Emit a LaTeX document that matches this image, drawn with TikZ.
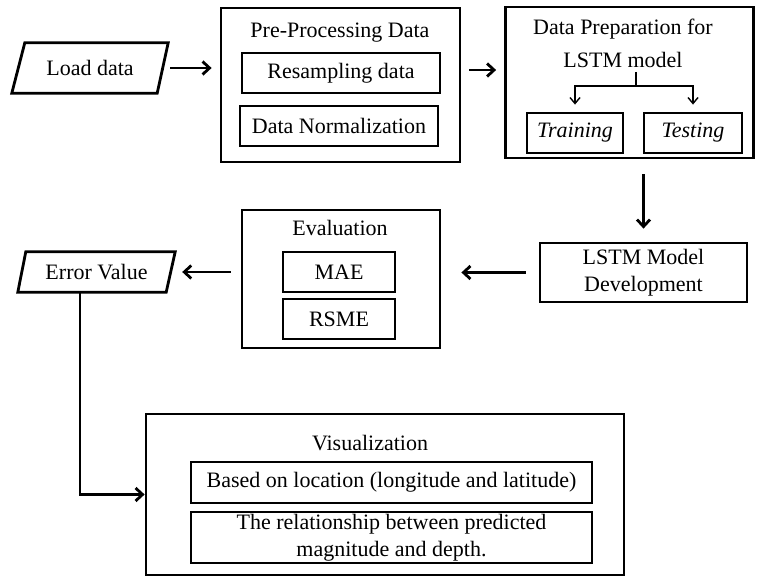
\documentclass[tikz,border=0pt]{standalone}
\usepackage{fontspec}
\setmainfont{Liberation Serif}
\usetikzlibrary{arrows.meta,calc}
\begin{document}
\begin{tikzpicture}[x=1pt,y=-1pt,
  font=\fontsize{22}{27}\selectfont,
  box/.style={draw, line width=2.8pt, inner sep=0pt, align=center},
  txt/.style={inner sep=0pt, align=center},
  frame/.style={line width=2.8pt, line join=miter},
  arr/.style={line width=2.8pt, -{Straight Barb[length=7pt,width=13pt]}},
  branch/.style={line width=1.4pt},
  barr/.style={line width=1.4pt, -{Straight Barb[length=6pt,width=10pt]}}]
\useasboundingbox (0,0) rectangle (757,577);

% Load data
\node[txt, minimum width=156, minimum height=50] (load) at (90,68) {Load data};
\draw[frame] (load.south west) -- ($(load.north west)+(13,0)$) -- (load.north east) -- ($(load.south east)+(-11,0)$) -- cycle;

% Pre-processing
\node[box, minimum width=239, minimum height=154] (pre) at (340.5,85) {};
\node[txt] (pretitle) at (340,33) {Pre-Processing Data};
\node[box, minimum width=198, minimum height=40] (resamp) at (341,73) {Resampling data};
\node[box, minimum width=198, minimum height=40] (norm) at (339,126) {Data Normalization};

% Data preparation
\node[box, minimum width=248, minimum height=151] (prep) at (629.5,82.5) {};
\node[txt, font=\fontsize{22}{33}\selectfont] (preptitle) at (623,43) {Data Preparation for\\LSTM model};
\node[box, minimum width=96, minimum height=40] (train) at (575,133) {\itshape Training};
\node[box, minimum width=98, minimum height=40] (test) at (693,133) {\itshape Testing};
\coordinate (b0) at (636,72);
\coordinate (b1) at (636,86);
\draw[branch] (b0) -- (b1);
\draw[barr, shorten >=7pt] (b1) -| (train.north);
\draw[barr, shorten >=7pt] (b1) -| (test.north);

% LSTM model development
\node[box, minimum width=207, minimum height=59] (lstm) at (643.5,272.5) {LSTM Model\\Development};

% Evaluation
\node[box, minimum width=198, minimum height=138] (eval) at (341,279) {};
\node[txt] (evaltitle) at (340,228) {Evaluation};
\node[box, minimum width=112, minimum height=40] (mae) at (339,272) {MAE};
\node[box, minimum width=112, minimum height=40] (rsme) at (339,319) {RSME};

% Error value
\node[txt, minimum width=157, minimum height=40] (err) at (96.5,272) {Error Value};
\draw[frame] (err.south west) -- ($(err.north west)+(8,0)$) -- (err.north east) -- ($(err.south east)+(-9,0)$) -- cycle;

% Visualization
\node[box, minimum width=478, minimum height=161] (vis) at (385,494.5) {};
\node[txt] (vistitle) at (370,443) {Visualization};
\node[box, minimum width=401, minimum height=41] (vis1) at (391.5,482.5) {Based on location (longitude and latitude)};
\node[box, minimum width=401, minimum height=51] (vis2) at (391.5,537.5) {The relationship between predicted\\magnitude and depth.};

% Connectors
\draw[arr, shorten <=2pt, shorten >=8pt] (load.east) -- (load.east -| pre.west);
\coordinate (a1) at ([yshift=15pt]pre.east);
\draw[arr, shorten <=8pt, shorten >=8pt] (a1) -- (a1 -| prep.west);
\draw[arr, shorten <=15pt, shorten >=13pt] (lstm.north |- prep.south) -- (lstm.north);
\draw[arr, shorten <=13pt, shorten >=20pt] (lstm.west) -- (lstm.west -| eval.east);
\draw[arr, shorten <=10pt, shorten >=7pt] (err.east -| eval.west) -- (err.east);
\draw[arr] ([xshift=-16.5pt]err.south) |- (vis.west);
\end{tikzpicture}
\end{document}
